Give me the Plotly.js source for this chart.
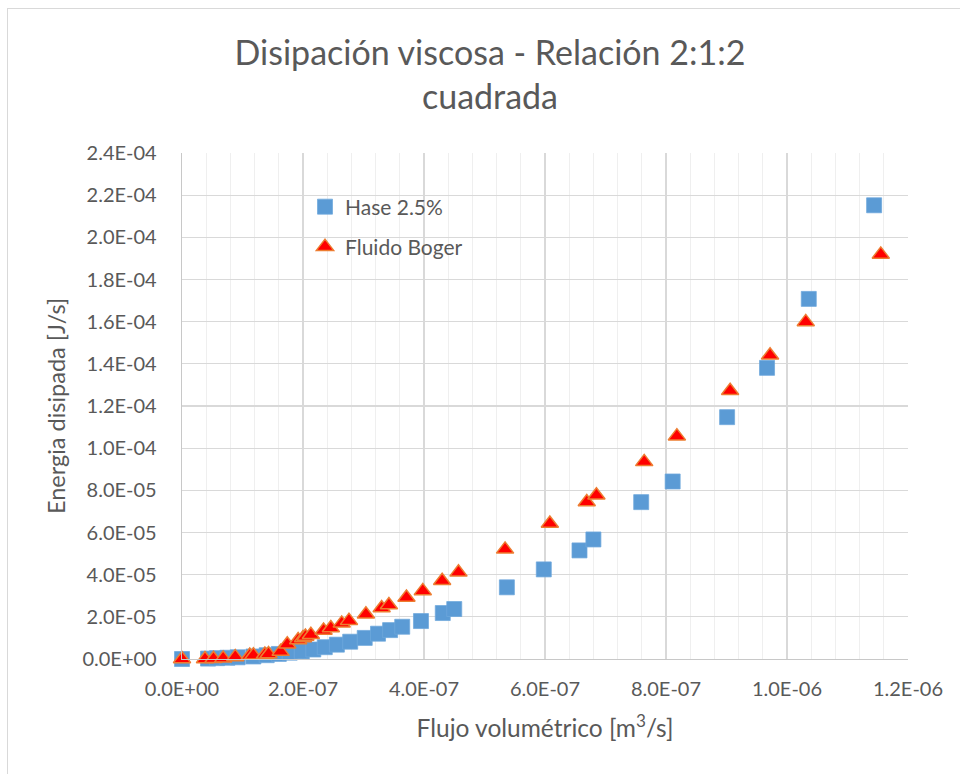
<!DOCTYPE html>
<html><head><meta charset="utf-8">
<script src="https://cdn.plot.ly/plotly-3.0.1.min.js"></script>
<style>
body{margin:0;background:#fff;overflow:hidden}
#chart{width:960px;height:774px;position:absolute;left:0;top:0}
#frame{position:absolute;left:7px;top:8px;width:953px;height:766px;border-left:1px solid #d9d9d9;border-top:1px solid #d9d9d9;pointer-events:none;box-sizing:border-box}
</style>
</head><body>
<div id="chart"></div><div id="frame"></div>
<script>
// Hase 2.5% (blue squares)
const haseX = [0, 4.3e-8, 5.8e-8, 7.5e-8, 9.2e-8, 1.18e-7, 1.40e-7, 1.60e-7, 1.78e-7, 1.98e-7, 2.17e-7, 2.36e-7, 2.56e-7, 2.78e-7, 3.02e-7, 3.24e-7, 3.44e-7, 3.64e-7, 3.95e-7, 4.31e-7, 4.50e-7, 5.37e-7, 5.98e-7, 6.57e-7, 6.80e-7, 7.59e-7, 8.11e-7, 9.01e-7, 9.67e-7, 1.036e-6, 1.144e-6];
const haseY = [0, 2e-7, 4e-7, 6e-7, 8e-7, 1.2e-6, 1.8e-6, 2.4e-6, 3.0e-6, 3.6e-6, 4.5e-6, 5.6e-6, 6.8e-6, 8.2e-6, 1.0e-5, 1.2e-5, 1.37e-5, 1.53e-5, 1.80e-5, 2.18e-5, 2.37e-5, 3.40e-5, 4.25e-5, 5.15e-5, 5.67e-5, 7.44e-5, 8.42e-5, 1.147e-4, 1.381e-4, 1.708e-4, 2.152e-4];
// Fluido Boger (red triangles)
const bogerX = [0, 3.8e-8, 5.2e-8, 6.8e-8, 8.8e-8, 1.12e-7, 1.18e-7, 1.37e-7, 1.43e-7, 1.63e-7, 1.74e-7, 1.92e-7, 2.00e-7, 2.04e-7, 2.13e-7, 2.34e-7, 2.46e-7, 2.64e-7, 2.76e-7, 3.04e-7, 3.30e-7, 3.42e-7, 3.71e-7, 3.98e-7, 4.30e-7, 4.57e-7, 5.34e-7, 6.08e-7, 6.69e-7, 6.85e-7, 7.64e-7, 8.18e-7, 9.06e-7, 9.72e-7, 1.031e-6, 1.155e-6];
const bogerY = [0, 0, 1e-7, 3e-7, 1.0e-6, 1.7e-6, 1.8e-6, 2.1e-6, 2.4e-6, 3.5e-6, 7.0e-6, 9.0e-6, 1.0e-5, 1.07e-5, 1.15e-5, 1.35e-5, 1.47e-5, 1.69e-5, 1.82e-5, 2.12e-5, 2.42e-5, 2.56e-5, 2.92e-5, 3.23e-5, 3.71e-5, 4.11e-5, 5.20e-5, 6.43e-5, 7.45e-5, 7.77e-5, 9.35e-5, 1.057e-4, 1.272e-4, 1.441e-4, 1.599e-4, 1.919e-4];

const xTickVals = [0, 2e-7, 4e-7, 6e-7, 8e-7, 1e-6, 1.2e-6];
const xTickText = ["0.0E+00", "2.0E-07", "4.0E-07", "6.0E-07", "8.0E-07", "1.0E-06", "1.2E-06"];
const yTickVals = [0, 2e-5, 4e-5, 6e-5, 8e-5, 1e-4, 1.2e-4, 1.4e-4, 1.6e-4, 1.8e-4, 2.0e-4, 2.2e-4, 2.4e-4];
const yTickText = ["0.0E+00", "2.0E-05", "4.0E-05", "6.0E-05", "8.0E-05", "1.0E-04", "1.2E-04", "1.4E-04", "1.6E-04", "1.8E-04", "2.0E-04", "2.2E-04", "2.4E-04"];

const FONT = "Lato, 'Open Sans', sans-serif";
const TXT = "#595959";

const traces = [
  {x: haseX, y: haseY, name: "Hase 2.5%", type: "scatter", mode: "markers",
   marker: {symbol: "square", size: 15, color: "#5b9bd5", line: {color: "#6fa8dc", width: 0.75}},
   legend: "legend", cliponaxis: false},
  {x: bogerX, y: bogerY, name: "Fluido Boger", type: "scatter", mode: "markers",
   marker: {symbol: "triangle-up", size: 15, color: "#ff0000", line: {color: "#ed7d31", width: 1.5}},
   legend: "legend2", cliponaxis: false}
];

const layout = {
  width: 960, height: 774,
  margin: {l: 182, r: 52, t: 153, b: 115},
  paper_bgcolor: "#fff", plot_bgcolor: "#fff",
  font: {family: FONT, color: TXT},
  title: {text: "Disipación viscosa - Relación 2:1:2<br>cuadrada", xref: "container", yref: "container",
          x: 490/960, xanchor: "center", y: 1 - 65/774, yanchor: "top",
          font: {family: FONT, size: 34, color: TXT}},
  xaxis: {range: [0, 1.2e-6], tickvals: xTickVals, ticktext: xTickText,
          showgrid: true, gridcolor: "#d9d9d9", gridwidth: 1.3,
          minor: {dtick: 4e-8, tick0: 0, showgrid: true, gridcolor: "#efefef", gridwidth: 1.3},
          showline: true, linecolor: "#c8c8c8", linewidth: 1.3, zeroline: false,
          ticks: "outside", ticklen: 12, tickcolor: "rgba(0,0,0,0)",
          tickfont: {family: FONT, size: 20, color: TXT},
          title: {text: "Flujo volumétrico [m<sup>3</sup>/s]", font: {family: FONT, size: 24.5, color: TXT}, standoff: 20},
          fixedrange: true},
  yaxis: {range: [0, 2.4e-4], tickvals: yTickVals, ticktext: yTickText,
          showgrid: true, gridcolor: "#d9d9d9", gridwidth: 1.3,
          showline: true, linecolor: "#c8c8c8", linewidth: 1.3, zeroline: false,
          ticks: "outside", ticklen: 20, tickcolor: "rgba(0,0,0,0)",
          tickfont: {family: FONT, size: 20, color: TXT},
          title: {text: "Energia disipada [J/s]", font: {family: FONT, size: 23.5, color: TXT}, standoff: 10},
          fixedrange: true},
  showlegend: true,
  legend: {x: (305-182)/726, y: (659-207)/506, xanchor: "left", yanchor: "middle",
           bgcolor: "rgba(0,0,0,0)", font: {family: FONT, size: 21, color: TXT}, itemwidth: 30},
  legend2: {x: (305-182)/726, y: (659-247)/506, xanchor: "left", yanchor: "middle",
           bgcolor: "rgba(0,0,0,0)", font: {family: FONT, size: 21, color: TXT}, itemwidth: 30}
};

Plotly.newPlot("chart", traces, layout, {displayModeBar: false, staticPlot: true});
</script>
</body></html>
